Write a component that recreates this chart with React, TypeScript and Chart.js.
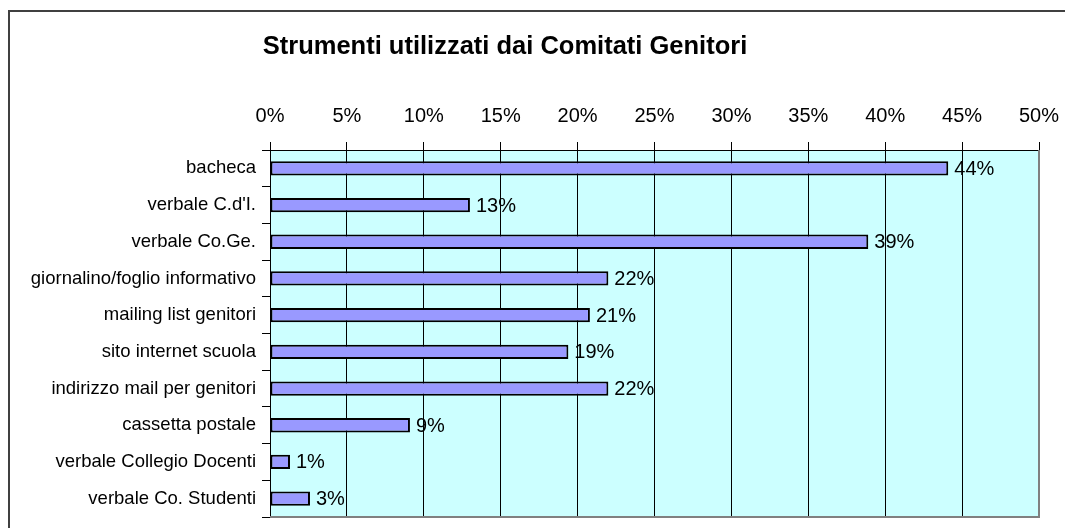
import React, { useEffect, useRef } from "react";
import { Chart, registerables } from "chart.js";

Chart.register(...registerables);

const TITLE = "Strumenti utilizzati dai Comitati Genitori";
const categories = [
  "bacheca",
  "verbale C.d'I.",
  "verbale Co.Ge.",
  "giornalino/foglio informativo",
  "mailing list genitori",
  "sito internet scuola",
  "indirizzo mail per genitori",
  "cassetta postale",
  "verbale Collegio Docenti",
  "verbale Co. Studenti",
];
const values = [44.1, 13.0, 38.9, 22.0, 20.8, 19.4, 22.0, 9.1, 1.3, 2.6];
const xTickMin = 0;
const xTickMax = 50;
const xTickStep = 5;

const FONT = '"Liberation Sans", Arial, Helvetica, sans-serif';
const W = 1065;
const H = 528;

export default function App() {
  const ref = useRef<HTMLCanvasElement | null>(null);

  useEffect(() => {
    if (!ref.current) return;
    const framePlugin = {
      id: "frame",
      beforeDraw(chart: any) {
        const { ctx, chartArea } = chart;
        ctx.save();
        ctx.fillStyle = "#ffffff";
        ctx.fillRect(0, 0, chart.width, chart.height);
        ctx.fillStyle = "#CCFFFF";
        ctx.fillRect(
          chartArea.left,
          chartArea.top,
          chartArea.right - chartArea.left,
          chartArea.bottom - chartArea.top
        );
        // outer frame
        ctx.fillStyle = "#404040";
        ctx.fillRect(8, 10, chart.width - 8, 2);
        ctx.fillRect(8, 10, 2, chart.height - 10);
        // title
        ctx.fillStyle = "#000";
        ctx.font = `bold 25.5px ${FONT}`;
        ctx.textAlign = "center";
        ctx.textBaseline = "alphabetic";
        ctx.fillText(TITLE, 505, 54);
        ctx.restore();
      },
      afterDatasetsDraw(chart: any) {
        const { ctx } = chart;
        const meta = chart.getDatasetMeta(0);
        ctx.save();
        ctx.fillStyle = "#000";
        ctx.font = `20px ${FONT}`;
        ctx.textAlign = "left";
        ctx.textBaseline = "middle";
        meta.data.forEach((el: any, i: number) => {
          ctx.fillText(Math.round(values[i]) + "%", el.x + 6, el.y + 1);
        });
        ctx.restore();
      },
      afterDraw(chart: any) {
        const { ctx, chartArea } = chart;
        ctx.save();
        ctx.fillStyle = "#808080";
        ctx.fillRect(chartArea.right - 1, chartArea.top, 2, chartArea.bottom - chartArea.top + 1);
        ctx.fillRect(chartArea.left, chartArea.bottom - 1, chartArea.right - chartArea.left + 1, 2);
        ctx.restore();
      },
    };

    const chart = new Chart(ref.current, {
      type: "bar",
      data: {
        labels: categories,
        datasets: [
          {
            data: values,
            backgroundColor: "#9999FF",
            borderColor: "#000000",
            borderWidth: 2,
            barPercentage: 0.39,
            categoryPercentage: 1,
            borderSkipped: false,
          },
        ],
      },
      options: {
        indexAxis: "y",
        responsive: false,
        animation: false,
        layout: { padding: { top: 0, right: 26, bottom: 11, left: 0 } },
        plugins: {
          legend: { display: false },
          title: { display: false },
          tooltip: { enabled: false },
        },
        scales: {
          x: {
            position: "top",
            min: xTickMin,
            max: xTickMax,
            afterFit(scale: any) {
              scale.height = 150;
              scale.paddingLeft = 0;
              scale.paddingRight = 0;
              scale.paddingTop = 0;
              scale.paddingBottom = 0;
            },
            ticks: {
              stepSize: xTickStep,
              padding: 14,
              color: "#000",
              font: { family: FONT, size: 20 },
              callback: (v: any) => v + "%",
            },
            grid: {
              color: "#000",
              lineWidth: 1,
              tickLength: 8,
              tickColor: "#000",
            },
            border: { display: true, color: "#000", width: 1 },
          },
          y: {
            afterFit(scale: any) {
              scale.width = 270;
              scale.paddingLeft = 0;
              scale.paddingRight = 0;
              scale.paddingTop = 0;
              scale.paddingBottom = 0;
            },
            ticks: {
              padding: 6,
              color: "#000",
              font: { family: FONT, size: 18.5 },
              autoSkip: false,
            },
            grid: {
              drawOnChartArea: false,
              offset: true,
              tickLength: 8,
              color: "#000",
              tickColor: "#000",
            },
            border: { display: true, color: "#000", width: 1 },
          },
        },
      },
      plugins: [framePlugin],
    } as any);
    return () => chart.destroy();
  }, []);

  return (
    <canvas
      ref={ref}
      width={W}
      height={H}
      style={{ display: "block", position: "absolute", left: 0, top: 0, width: W, height: H }}
    />
  );
}
